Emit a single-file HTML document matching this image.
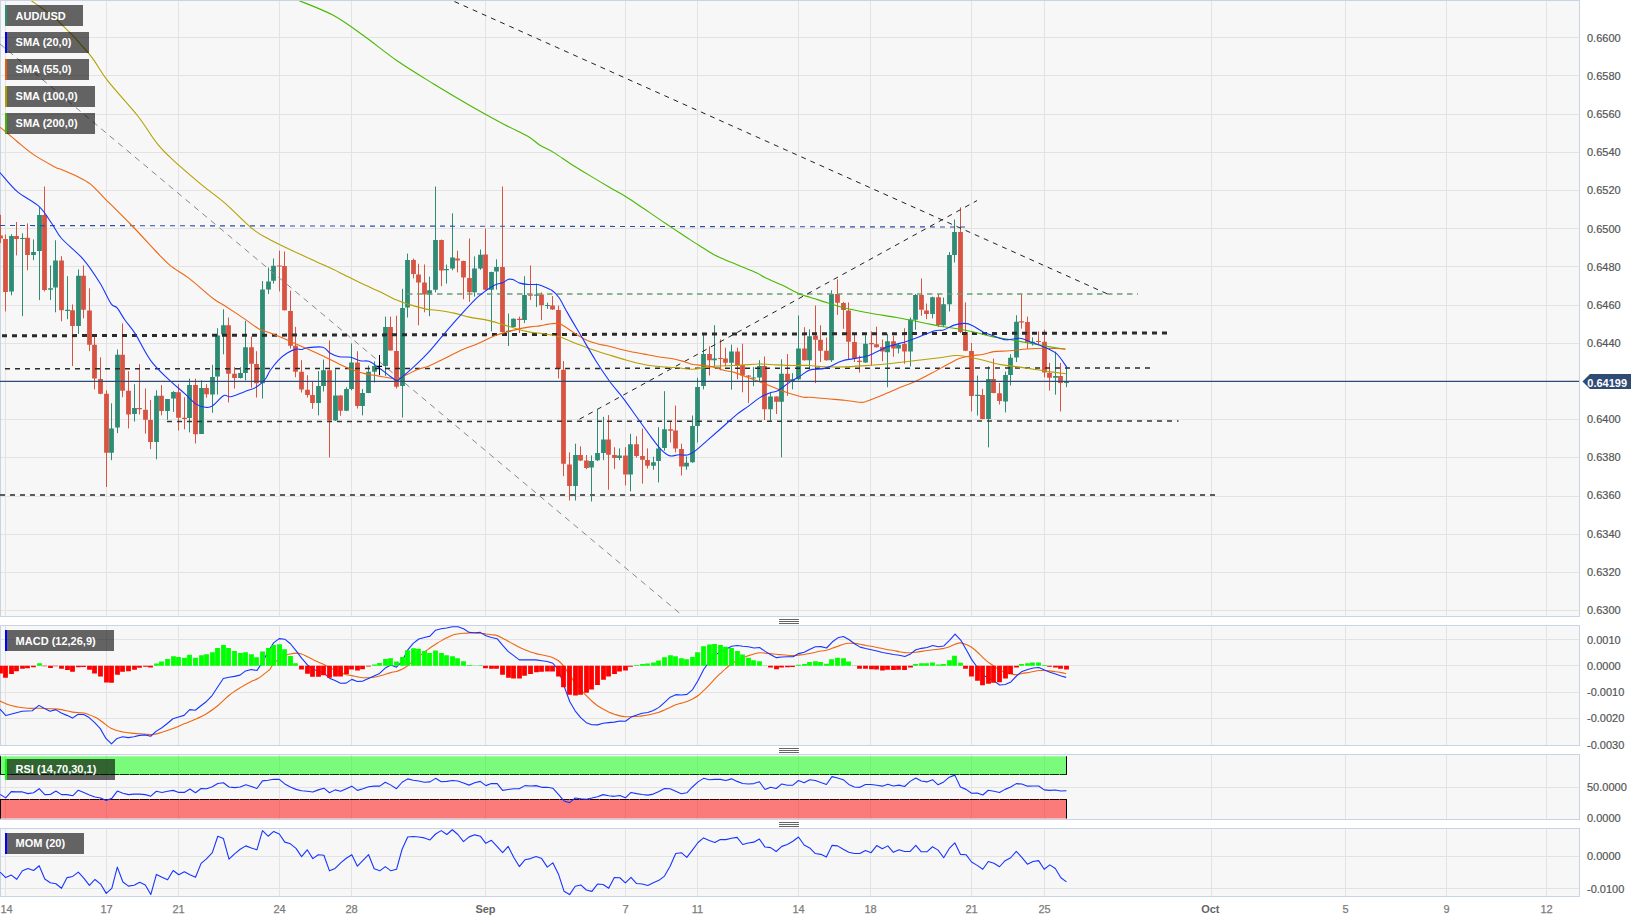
<!DOCTYPE html>
<html lang="en"><head><meta charset="utf-8"><title>AUD/USD chart</title>
<style>html,body{margin:0;padding:0;background:#fff;overflow:hidden}svg{display:block}text{font-family:"Liberation Sans",Arial,sans-serif}</style>
</head><body>
<svg width="1650" height="922" viewBox="0 0 1650 922">
<rect width="1650" height="922" fill="#ffffff"/>
<defs>
<clipPath id="cp0"><rect x="0" y="1" width="1579" height="615"/></clipPath>
<clipPath id="cp1"><rect x="0" y="626" width="1579" height="119"/></clipPath>
<clipPath id="cp2"><rect x="0" y="755" width="1579" height="64"/></clipPath>
<clipPath id="cp3"><rect x="0" y="829" width="1579" height="67"/></clipPath>
</defs>
<rect x="0.5" y="0.5" width="1579" height="616" fill="#f7f7f7" stroke="#c9d3e6" stroke-width="1"/>
<path d="M5.5 1V616M106.5 1V616M178.5 1V616M279.5 1V616M351.5 1V616M485.5 1V616M625.5 1V616M697.5 1V616M798.5 1V616M870.5 1V616M971.5 1V616M1044.5 1V616M1211.5 1V616M1345.5 1V616M1446.5 1V616M1546.5 1V616M1 37.5H1579M1 75.5H1579M1 114.5H1579M1 152.5H1579M1 190.5H1579M1 228.5H1579M1 266.5H1579M1 305.5H1579M1 343.5H1579M1 381.5H1579M1 419.5H1579M1 457.5H1579M1 496.5H1579M1 534.5H1579M1 572.5H1579M1 610.5H1579" stroke="#e3e3e3" stroke-width="1" fill="none"/>
<rect x="0.5" y="625.5" width="1579" height="120" fill="#f7f7f7" stroke="#c9d3e6" stroke-width="1"/>
<path d="M5.5 626V745M106.5 626V745M178.5 626V745M279.5 626V745M351.5 626V745M485.5 626V745M625.5 626V745M697.5 626V745M798.5 626V745M870.5 626V745M971.5 626V745M1044.5 626V745M1211.5 626V745M1345.5 626V745M1446.5 626V745M1546.5 626V745M1 639.5H1579M1 665.5H1579M1 692.5H1579M1 718.5H1579" stroke="#e3e3e3" stroke-width="1" fill="none"/>
<rect x="0.5" y="754.5" width="1579" height="65" fill="#f7f7f7" stroke="#c9d3e6" stroke-width="1"/>
<path d="M5.5 755V819M106.5 755V819M178.5 755V819M279.5 755V819M351.5 755V819M485.5 755V819M625.5 755V819M697.5 755V819M798.5 755V819M870.5 755V819M971.5 755V819M1044.5 755V819M1211.5 755V819M1345.5 755V819M1446.5 755V819M1546.5 755V819M1 787.5H1579" stroke="#e3e3e3" stroke-width="1" fill="none"/>
<rect x="0.5" y="828.5" width="1579" height="68" fill="#f7f7f7" stroke="#c9d3e6" stroke-width="1"/>
<path d="M5.5 829V896M106.5 829V896M178.5 829V896M279.5 829V896M351.5 829V896M485.5 829V896M625.5 829V896M697.5 829V896M798.5 829V896M870.5 829V896M971.5 829V896M1044.5 829V896M1211.5 829V896M1345.5 829V896M1446.5 829V896M1546.5 829V896M1 856.5H1579M1 888.5H1579" stroke="#e3e3e3" stroke-width="1" fill="none"/>
<g clip-path="url(#cp0)">
<path d="M0.5 214.8V242.9M5.5 234.5V311.4M16.5 222.0V255.4M27.5 223.4V270.3M44.5 186.5V291.4M61.5 256.2V321.3M72.5 304.4V366.0M83.5 265.4V318.3M89.5 288.3V351.2M94.5 336.5V389.4M100.5 357.3V394.3M106.5 390.3V487M122.5 323.5V397.2M128.5 371.2V428.4M139.5 364.2V414.5M145.5 388.5V433.6M150.5 400.1V449.2M161.5 385.1V415.4M178.5 384.2V430.5M184.5 397.2V429.3M195.5 378.6V443.5M206.5 384.2V397.7M228.5 317.5V402.4M234.5 367.2V388.5M251.5 336.5V387.7M256.5 351.2V397.5M279.5 250.7V291.4M284.5 251.5V310.5M290.5 290.6V348.6M295.5 326.9V377.2M301.5 360.2V392.5M307.5 375.2V397.5M312.5 381.6V408.8M329.5 340.5V457.4M340.5 395.1V415.8M357.5 351.2V408.5M390.5 316.6V350.7M396.5 315.7V388.5M413.5 258.5V278.4M418.5 263.7V325.3M424.5 264.5V312.3M441.5 239.6V286.2M457.5 250.7V272.4M463.5 260.6V299.2M469.5 238.5V301.8M485.5 228.6V290.0M502.5 186.5V332.5M519.5 316.6V333.0M530.5 265.4V300.1M541.5 292.3V320.1M552.5 296.0V309.9M558.5 305.6V378.4M563.5 361.1V476.2M569.5 452.4V500.5M580.5 446.3V461.1M586.5 455.0V469.2M608.5 415.1V489.7M614.5 447.2V468.9M625.5 447.2V485.4M636.5 436.3V457.6M642.5 428.6V483.6M647.5 448.4V468.5M670.5 421.7V442.5M675.5 405.6V452.4M681.5 443.7V475.5M709.5 346.3V375.5M720.5 339.4V370.3M725.5 347.7V366.3M737.5 347.7V379.3M742.5 343.7V392.3M748.5 375.1V403.2M764.5 356.4V420.1M776.5 396.3V414.0M787.5 354.1V395.8M804.5 327.2V360.6M815.5 305.6V383.1M820.5 325.3V362.0M826.5 337.5V360.7M837.5 279.3V314.9M843.5 301.9V328.8M848.5 302.4V359.4M854.5 334.0V362.0M859.5 355.5V372.5M871.5 331.4V365.5M876.5 326.7V347.6M882.5 339.5V361.2M893.5 335.7V356.8M904.5 328.2V363.8M921.5 278.5V315.8M926.5 303.6V319.2M938.5 294.1V327.1M960.5 207.3V333.1M965.5 302.4V351.1M971.5 343.0V411.5M982.5 388.9V419.3M993.5 358.6V393.3M999.5 382.9V404.5M1021.5 294.1V328.7M1027.5 316.6V349.0M1038.5 331.3V344.7M1044.5 329.6V377.3M1049.5 362.9V390.7M1060.5 362.9V411.5" stroke="#d75442" stroke-width="1" fill="none"/>
<path d="M11.5 234.2V295.3M22.5 233.3V316.2M33.5 239.4V260.2M39.5 207.3V300.1M50.5 265.4V300.1M55.5 240.3V312.3M67.5 276.2V319.2M78.5 269.4V333.9M111.5 403.3V460.2M117.5 349.5V433.1M134.5 384.2V421.5M156.5 390.3V459.3M167.5 398.9V419.8M173.5 391.1V411.9M189.5 378.6V432.4M201.5 380.4V434.0M212.5 364.8V412.8M217.5 328.2V394.6M223.5 309.3V354.3M240.5 367.2V378.5M245.5 320.9V380.4M262.5 281.0V398.6M268.5 267.5V294.0M273.5 258.5V283.6M318.5 371.2V415.4M323.5 359.6V391.5M335.5 369.4V421.0M346.5 387.3V411.1M351.5 343.4V390.3M362.5 389.0V415.4M368.5 365.5V393.2M374.5 361.3V382.5M379.5 363.4V369.4M385.5 316.6V375.9M402.5 288.8V417.5M407.5 253.6V317.5M429.5 276.7V316.2M435.5 186.5V292.3M446.5 264.5V283.6M452.5 213.4V270.3M474.5 256.4V296.6M480.5 249.5V269.8M491.5 271.7V331.3M496.5 259.3V289.7M508.5 313.6V346.0M513.5 318.3V327.3M524.5 276.2V323.0M536.5 283.6V307.1M547.5 302.7V308.8M575.5 443.7V500.5M591.5 455.4V501.5M597.5 409.9V461.1M603.5 416.8V460.2M619.5 448.4V460.2M630.5 433.8V491.4M653.5 456.7V469.8M658.5 427.2V482.4M664.5 391.2V450.7M686.5 456.4V469.8M692.5 415.5V462.8M697.5 377.8V442.5M703.5 335.1V389.4M714.5 325.2V366.3M731.5 344.6V389.7M753.5 367.1V386.2M759.5 360.2V381.0M770.5 392.3V420.9M781.5 359.3V457.3M792.5 373.2V389.4M798.5 315.5V380.2M809.5 329.3V368.0M831.5 290.3V362.0M865.5 335.4V362.9M887.5 333.9V387.2M898.5 343.8V353.4M910.5 317.5V366.4M915.5 294.1V329.7M932.5 296.7V318.4M943.5 297.6V327.1M949.5 252.1V311.4M954.5 219.5V262.5M977.5 375.6V415.5M988.5 366.4V447.4M1005.5 371.6V412.4M1010.5 354.2V385.5M1016.5 315.2V362.0M1032.5 337.4V345.6M1055.5 351.6V394.7M1066.5 367.2V387.2" stroke="#2e8b74" stroke-width="1" fill="none"/>
<path d="M-1.9 235.6h4.8v2.9h-4.8zM3.1 238.9h4.8v53.1h-4.8zM14.1 235.9h4.8v3.0h-4.8zM25.1 237.7h4.8v17.3h-4.8zM42.1 215.1h4.8v74.9h-4.8zM59.1 260.6h4.8v49.6h-4.8zM70.1 310.2h4.8v15.9h-4.8zM81.1 275.8h4.8v34.0h-4.8zM87.1 310.5h4.8v34.3h-4.8zM92.1 344.8h4.8v33.8h-4.8zM98.1 379.0h4.8v14.7h-4.8zM104.1 393.7h4.8v59.0h-4.8zM120.1 354.7h4.8v36.1h-4.8zM126.1 390.8h4.8v23.7h-4.8zM137.1 408.1h4.8v1.2h-4.8zM143.1 409.7h4.8v10.1h-4.8zM148.1 420.1h4.8v21.9h-4.8zM159.1 395.8h4.8v15.3h-4.8zM176.1 392.3h4.8v25.4h-4.8zM182.1 417.7h4.8v1.2h-4.8zM193.1 385.1h4.8v49.1h-4.8zM204.1 388.0h4.8v6.3h-4.8zM226.1 325.2h4.8v48.6h-4.8zM232.1 373.8h4.8v4.3h-4.8zM249.1 347.2h4.8v16.5h-4.8zM254.1 363.9h4.8v19.4h-4.8zM277.1 265.4h4.8v1.2h-4.8zM282.1 265.9h4.8v44.3h-4.8zM288.1 310.9h4.8v34.8h-4.8zM293.1 345.7h4.8v26.0h-4.8zM299.1 371.7h4.8v17.7h-4.8zM305.1 389.7h4.8v5.2h-4.8zM310.1 394.9h4.8v8.0h-4.8zM327.1 370.3h4.8v50.3h-4.8zM338.1 395.5h4.8v15.2h-4.8zM355.1 362.5h4.8v43.4h-4.8zM388.1 327.0h4.8v23.4h-4.8zM394.1 350.9h4.8v35.9h-4.8zM411.1 259.9h4.8v14.2h-4.8zM416.1 274.6h4.8v7.8h-4.8zM422.1 282.4h4.8v12.2h-4.8zM439.1 239.9h4.8v30.7h-4.8zM455.1 258.5h4.8v2.1h-4.8zM461.1 261.1h4.8v16.5h-4.8zM467.1 277.9h4.8v14.4h-4.8zM483.1 254.5h4.8v35.2h-4.8zM500.1 267.1h4.8v65.0h-4.8zM517.1 318.8h4.8v1.3h-4.8zM528.1 294.6h4.8v1.2h-4.8zM539.1 294.6h4.8v10.7h-4.8zM550.1 305.6h4.8v4.0h-4.8zM556.1 309.9h4.8v59.0h-4.8zM561.1 369.8h4.8v93.9h-4.8zM567.1 464.5h4.8v21.4h-4.8zM578.1 455.0h4.8v5.6h-4.8zM584.1 460.6h4.8v7.4h-4.8zM606.1 439.4h4.8v15.3h-4.8zM612.1 455.0h4.8v3.1h-4.8zM623.1 455.4h4.8v19.2h-4.8zM634.1 444.3h4.8v11.6h-4.8zM640.1 455.9h4.8v3.8h-4.8zM645.1 459.9h4.8v5.9h-4.8zM668.1 429.3h4.8v1.4h-4.8zM673.1 430.4h4.8v18.0h-4.8zM679.1 448.9h4.8v17.7h-4.8zM707.1 354.1h4.8v6.1h-4.8zM718.1 358.1h4.8v1.0h-4.8zM723.1 358.5h4.8v4.3h-4.8zM735.1 351.5h4.8v13.6h-4.8zM740.1 365.1h4.8v10.4h-4.8zM746.1 375.5h4.8v1.2h-4.8zM762.1 365.9h4.8v43.4h-4.8zM774.1 396.6h4.8v5.2h-4.8zM785.1 373.7h4.8v7.3h-4.8zM802.1 348.4h4.8v11.8h-4.8zM813.1 335.6h4.8v4.1h-4.8zM818.1 339.8h4.8v11.0h-4.8zM824.1 350.8h4.8v9.5h-4.8zM835.1 294.1h4.8v8.7h-4.8zM841.1 303.1h4.8v6.9h-4.8zM846.1 310.6h4.8v31.1h-4.8zM852.1 342.1h4.8v16.5h-4.8zM857.1 360.7h4.8v1.3h-4.8zM869.1 343.0h4.8v1.2h-4.8zM874.1 344.2h4.8v3.1h-4.8zM880.1 347.0h4.8v4.6h-4.8zM891.1 341.2h4.8v7.3h-4.8zM902.1 343.8h4.8v7.8h-4.8zM919.1 295.0h4.8v14.7h-4.8zM924.1 310.6h4.8v3.4h-4.8zM936.1 297.2h4.8v27.8h-4.8zM958.1 232.0h4.8v99.9h-4.8zM963.1 331.9h4.8v18.9h-4.8zM969.1 351.1h4.8v44.8h-4.8zM980.1 395.0h4.8v23.9h-4.8zM991.1 379.0h4.8v13.9h-4.8zM997.1 393.3h4.8v7.8h-4.8zM1019.1 321.3h4.8v1.2h-4.8zM1025.1 322.1h4.8v20.5h-4.8zM1036.1 340.9h4.8v1.2h-4.8zM1042.1 341.7h4.8v30.8h-4.8zM1047.1 372.8h4.8v4.9h-4.8zM1058.1 375.9h4.8v7.0h-4.8z" fill="#d75442"/>
<path d="M9.1 235.9h4.8v55.5h-4.8zM20.1 238.0h4.8v1.0h-4.8zM31.1 252.1h4.8v2.9h-4.8zM37.1 215.1h4.8v35.9h-4.8zM48.1 288.3h4.8v1.4h-4.8zM53.1 260.6h4.8v27.0h-4.8zM65.1 309.8h4.8v1.1h-4.8zM76.1 275.8h4.8v50.3h-4.8zM109.1 428.4h4.8v24.3h-4.8zM115.1 354.7h4.8v72.9h-4.8zM132.1 408.1h4.8v5.9h-4.8zM154.1 395.8h4.8v46.2h-4.8zM165.1 398.9h4.8v12.2h-4.8zM171.1 392.0h4.8v6.4h-4.8zM187.1 385.1h4.8v32.9h-4.8zM199.1 388.0h4.8v46.0h-4.8zM210.1 376.9h4.8v17.7h-4.8zM215.1 335.6h4.8v41.0h-4.8zM221.1 325.3h4.8v8.9h-4.8zM238.1 372.9h4.8v5.2h-4.8zM243.1 347.2h4.8v25.7h-4.8zM260.1 289.4h4.8v93.9h-4.8zM266.1 281.4h4.8v8.0h-4.8zM271.1 265.8h4.8v14.9h-4.8zM316.1 385.9h4.8v17.0h-4.8zM321.1 370.3h4.8v15.6h-4.8zM333.1 395.5h4.8v25.1h-4.8zM344.1 389.0h4.8v21.7h-4.8zM349.1 362.5h4.8v26.4h-4.8zM360.1 392.9h4.8v13.0h-4.8zM366.1 371.7h4.8v21.2h-4.8zM372.1 366.0h4.8v5.7h-4.8zM377.1 365.5h4.8v1.0h-4.8zM383.1 327.0h4.8v39.0h-4.8zM400.1 307.9h4.8v78.0h-4.8zM405.1 259.9h4.8v47.5h-4.8zM427.1 290.2h4.8v4.4h-4.8zM433.1 239.9h4.8v49.8h-4.8zM444.1 268.9h4.8v1.4h-4.8zM450.1 257.6h4.8v10.9h-4.8zM472.1 268.5h4.8v23.8h-4.8zM478.1 254.7h4.8v13.8h-4.8zM489.1 272.0h4.8v17.7h-4.8zM494.1 267.1h4.8v4.4h-4.8zM506.1 330.8h4.8v1.3h-4.8zM511.1 318.8h4.8v8.1h-4.8zM522.1 294.9h4.8v25.2h-4.8zM534.1 294.6h4.8v1.2h-4.8zM545.1 305.0h4.8v1.0h-4.8zM573.1 455.0h4.8v30.9h-4.8zM589.1 461.1h4.8v6.4h-4.8zM595.1 452.9h4.8v7.3h-4.8zM601.1 439.4h4.8v13.5h-4.8zM617.1 455.4h4.8v2.7h-4.8zM628.1 444.3h4.8v30.3h-4.8zM651.1 462.3h4.8v3.5h-4.8zM656.1 448.4h4.8v12.7h-4.8zM662.1 429.3h4.8v18.8h-4.8zM684.1 462.8h4.8v3.8h-4.8zM690.1 425.9h4.8v36.4h-4.8zM695.1 387.0h4.8v38.9h-4.8zM701.1 354.1h4.8v31.9h-4.8zM712.1 358.5h4.8v1.7h-4.8zM729.1 351.5h4.8v11.3h-4.8zM751.1 377.6h4.8v1.0h-4.8zM757.1 365.9h4.8v11.7h-4.8zM768.1 396.6h4.8v12.7h-4.8zM779.1 373.7h4.8v28.1h-4.8zM790.1 379.3h4.8v1.7h-4.8zM796.1 348.4h4.8v30.9h-4.8zM807.1 336.3h4.8v23.9h-4.8zM829.1 294.1h4.8v66.2h-4.8zM863.1 343.8h4.8v18.8h-4.8zM885.1 341.2h4.8v11.0h-4.8zM896.1 344.7h4.8v3.8h-4.8zM908.1 319.5h4.8v32.1h-4.8zM913.1 295.0h4.8v24.8h-4.8zM930.1 297.2h4.8v16.8h-4.8zM941.1 304.2h4.8v21.1h-4.8zM947.1 255.1h4.8v49.1h-4.8zM952.1 232.0h4.8v23.1h-4.8zM975.1 394.7h4.8v1.2h-4.8zM986.1 379.0h4.8v39.9h-4.8zM1003.1 375.1h4.8v26.3h-4.8zM1008.1 357.7h4.8v17.4h-4.8zM1014.1 321.8h4.8v35.6h-4.8zM1030.1 341.7h4.8v1.3h-4.8zM1053.1 375.9h4.8v1.8h-4.8zM1064.1 381.5h4.8v1.4h-4.8z" fill="#2e8b74"/>
<path d="M0 44L680 613.5" stroke="#888888" stroke-width="1" stroke-dasharray="6 5" fill="none"/>
<path d="M0 225.5L965 227" stroke="#2b4fa3" stroke-width="1.15" stroke-dasharray="5 5" fill="none"/>
<path d="M407 294H1138" stroke="#6f9a72" stroke-width="1.6" stroke-dasharray="5.5 4.5" fill="none"/>
<path d="M451 0L1108 294.2" stroke="#222222" stroke-width="1" stroke-dasharray="5 5" stroke-dashoffset="-3.8" fill="none"/>
<path d="M579.5 419.2L977 200.6" stroke="#222222" stroke-width="1" stroke-dasharray="5 5" fill="none"/>
<path d="M2 335.8L1167 333" stroke="#2b2b2b" stroke-width="3" stroke-dasharray="5 5" fill="none"/>
<path d="M5 368.8L1151 368" stroke="#2b2b2b" stroke-width="1.5" stroke-dasharray="5 5" fill="none"/>
<path d="M167 421.6L1178.5 420.9" stroke="#333333" stroke-width="1.5" stroke-dasharray="5 5" fill="none"/>
<path d="M0 495L1215.5 495" stroke="#5c5c5c" stroke-width="2.1" stroke-dasharray="5 5" fill="none"/>
<path d="M297.5 0.0C303.4 2.5 321.9 9.2 332.8 15.1C343.7 21.0 352.5 27.7 363.1 35.3C373.8 42.9 384.9 52.4 396.7 60.5C408.5 68.6 421.4 76.4 433.7 84.0C446.0 91.6 458.9 99.2 470.7 105.9C482.5 112.6 494.8 119.4 504.3 124.4C513.8 129.4 521.8 132.7 527.8 136.2C533.8 139.7 535.6 142.5 540.0 145.2C544.4 147.9 548.7 149.4 553.9 152.6C559.1 155.8 564.9 160.1 571.2 164.2C577.6 168.2 585.6 173.1 592.0 176.9C598.4 180.8 603.6 183.9 609.4 187.3C615.2 190.7 620.9 193.6 626.7 197.2C632.5 200.8 638.3 204.9 644.1 208.8C649.9 212.7 656.8 217.5 661.4 220.6C666.0 223.7 667.4 224.7 671.8 227.6C676.1 230.5 682.9 235.0 687.5 238.0C692.1 241.0 695.3 243.1 699.6 245.8C703.9 248.5 709.5 252.2 713.5 254.4C717.5 256.6 719.6 257.4 723.9 259.3C728.2 261.2 734.0 263.4 739.5 265.7C745.0 268.0 752.6 271.0 756.9 273.0C761.2 275.0 761.2 275.7 765.5 277.8C769.8 279.9 777.1 282.9 782.9 285.6C788.7 288.4 795.7 292.4 800.2 294.3C804.7 296.2 805.5 295.8 810.0 297.2C814.5 298.6 821.5 301.0 827.3 302.8C833.1 304.6 837.5 306.3 844.7 308.0C851.9 309.7 862.0 311.6 870.7 313.2C879.4 314.8 888.0 315.9 896.7 317.5C905.4 319.1 915.6 321.2 922.8 322.7C930.0 324.1 934.3 325.2 940.1 326.2C945.9 327.2 951.7 327.8 957.5 328.8C963.3 329.8 969.0 331.0 974.8 332.3C980.6 333.6 986.4 335.4 992.2 336.6C998.0 337.8 1003.7 338.5 1009.5 339.5C1015.3 340.5 1021.1 341.6 1026.9 342.7C1032.7 343.8 1037.9 344.7 1044.2 345.8C1050.5 346.9 1061.5 348.7 1065.0 349.3" stroke="#4ab800" stroke-width="1.1" fill="none" stroke-linejoin="round"/>
<path d="M30.3 0.0C34.8 3.4 47.4 11.2 57.2 20.2C67.0 29.2 80.7 43.7 89.1 53.8C97.5 63.9 99.5 70.3 107.6 80.7C115.7 91.1 129.4 105.3 137.8 116.0C146.2 126.7 151.3 136.5 158.0 144.6C164.7 152.7 170.9 158.0 178.2 164.7C185.5 171.4 193.9 178.4 201.7 184.9C209.5 191.4 216.8 196.1 225.2 203.4C233.6 210.7 244.6 222.6 252.1 228.6C259.6 234.6 263.2 236.0 270.0 239.7C276.8 243.4 284.8 247.0 292.6 250.7C300.4 254.4 309.0 258.3 316.8 261.9C324.6 265.5 332.2 268.9 339.4 272.4C346.6 275.9 353.3 279.5 360.2 282.8C367.1 286.1 374.9 289.4 381.0 292.3C387.1 295.2 392.0 298.1 396.6 300.1C401.2 302.1 403.9 302.9 408.8 304.4C413.7 305.9 421.5 308.1 426.1 309.1C430.7 310.1 431.9 309.5 436.5 310.2C441.1 310.9 448.4 312.0 453.9 313.1C459.4 314.2 464.0 315.9 469.5 317.1C475.0 318.3 481.4 318.9 486.9 320.1C492.4 321.3 497.6 323.0 502.5 324.4C507.4 325.8 511.7 327.4 516.3 328.7C520.9 330.0 526.2 331.3 530.2 332.1C534.2 332.9 535.5 332.6 540.0 333.3C544.5 334.0 551.5 334.7 557.3 336.3C563.1 337.9 568.9 340.7 574.7 342.9C580.5 345.1 586.2 347.5 592.0 349.5C597.8 351.5 603.6 353.2 609.4 355.0C615.2 356.8 620.9 358.6 626.7 360.2C632.5 361.8 638.3 363.4 644.1 364.5C649.9 365.6 656.2 366.3 661.4 366.8C666.6 367.3 670.1 367.1 675.3 367.5C680.5 367.9 687.5 369.3 692.7 369.2C697.9 369.1 701.3 367.7 706.5 367.1C711.7 366.5 718.1 366.1 723.9 365.8C729.7 365.5 735.4 365.4 741.2 365.1C747.0 364.8 753.7 364.1 758.6 364.0C763.5 363.9 766.1 364.3 770.7 364.5C775.3 364.7 780.8 365.2 786.3 365.4C791.8 365.5 799.8 365.4 803.7 365.4C807.7 365.4 806.1 365.2 810.0 365.5C813.9 365.8 821.5 366.7 827.3 366.9C833.1 367.1 838.9 367.1 844.7 366.9C850.5 366.7 854.8 366.4 862.0 365.9C869.2 365.4 879.4 364.7 888.1 363.8C896.8 362.9 905.4 361.7 914.1 360.7C922.8 359.7 933.2 358.6 940.1 357.7C947.0 356.8 951.4 355.7 955.7 355.5C960.0 355.3 961.5 355.7 966.1 356.5C970.7 357.3 977.7 358.9 983.5 360.3C989.3 361.7 995.0 363.5 1000.8 364.6C1006.6 365.7 1012.4 366.1 1018.2 366.9C1024.0 367.7 1029.7 368.6 1035.5 369.5C1041.3 370.4 1047.8 371.4 1052.9 372.1C1058.0 372.8 1063.7 373.5 1065.9 373.8" stroke="#b5a000" stroke-width="1.1" fill="none" stroke-linejoin="round"/>
<path d="M0.0 127.1C2.8 129.4 11.2 136.6 16.8 141.2C22.4 145.8 27.4 150.4 33.6 154.6C39.8 158.8 49.0 163.8 53.8 166.4C58.6 169.0 58.8 168.4 62.5 170.0C66.2 171.6 71.7 173.8 76.3 176.1C80.9 178.4 85.6 180.3 90.2 183.9C94.8 187.5 97.2 190.9 104.1 197.8C111.0 204.7 123.1 216.6 131.8 225.5C140.5 234.4 149.7 244.8 156.1 251.5C162.5 258.1 164.5 260.9 170.0 265.4C175.5 269.9 181.9 272.8 189.1 278.4C196.3 283.9 207.3 294.1 213.4 298.7C219.5 303.3 220.0 302.6 225.5 306.2C231.0 309.8 240.8 316.4 246.3 320.1C251.8 323.9 254.5 326.6 258.5 328.7C262.5 330.8 265.5 331.1 270.3 333.0C275.1 334.9 281.6 337.5 287.3 340.0C293.0 342.5 298.9 345.2 304.7 347.8C310.5 350.4 316.2 352.9 322.0 355.6C327.8 358.3 334.5 361.9 339.4 364.2C344.3 366.5 347.4 367.9 351.5 369.4C355.6 370.9 359.3 372.3 363.7 373.4C368.1 374.5 372.1 375.0 377.6 375.9C383.1 376.8 391.7 378.8 396.6 378.6C401.5 378.4 403.6 376.1 407.1 374.6C410.6 373.1 414.0 370.8 417.5 369.4C421.0 368.0 423.6 368.2 427.9 366.5C432.2 364.8 438.3 361.6 443.5 359.0C448.7 356.4 453.3 353.8 459.1 351.2C464.9 348.6 472.1 346.0 478.2 343.4C484.3 340.8 489.7 337.8 495.5 335.6C501.3 333.4 507.1 331.8 512.9 330.4C518.7 328.9 525.7 327.6 530.2 326.9C534.7 326.1 536.9 326.4 540.0 325.9C543.1 325.4 545.8 324.5 548.7 324.1C551.6 323.7 555.0 323.2 557.3 323.4C559.6 323.6 560.0 323.8 562.6 325.2C565.2 326.6 569.2 329.7 573.0 332.1C576.8 334.5 581.1 337.5 585.1 339.4C589.1 341.3 593.2 342.5 597.2 343.7C601.2 344.9 604.5 345.1 609.4 346.3C614.3 347.5 620.9 349.4 626.7 350.7C632.5 352.0 638.3 353.0 644.1 354.1C649.9 355.2 656.8 356.6 661.4 357.3C666.0 358.0 668.3 357.9 671.8 358.5C675.3 359.1 678.8 360.1 682.3 361.1C685.8 362.1 689.2 363.8 692.7 364.5C696.2 365.2 699.6 365.0 703.1 365.4C706.6 365.8 710.0 366.3 713.5 367.1C717.0 367.9 720.4 369.4 723.9 370.3C727.4 371.2 730.8 371.4 734.3 372.4C737.8 373.4 740.1 374.5 744.7 376.2C749.3 377.9 756.3 380.6 762.1 382.8C767.9 385.1 774.5 387.8 779.4 389.7C784.3 391.6 787.5 392.8 791.5 394.0C795.5 395.2 800.6 396.6 803.7 397.2C806.8 397.8 806.1 397.0 810.0 397.3C813.9 397.6 821.5 398.3 827.3 398.8C833.1 399.3 839.2 399.6 844.7 400.2C850.2 400.8 856.5 402.1 860.3 402.3C864.0 402.5 864.0 402.1 867.2 401.1C870.4 400.1 874.5 398.4 879.4 396.4C884.3 394.4 890.9 391.3 896.7 388.9C902.5 386.5 908.3 384.6 914.1 382.0C919.9 379.4 925.6 376.3 931.4 373.3C937.2 370.3 944.2 366.2 948.8 363.8C953.4 361.4 955.7 359.9 959.2 358.6C962.7 357.3 965.6 356.7 969.6 356.0C973.6 355.3 979.5 354.9 983.5 354.2C987.5 353.5 989.6 352.2 993.9 351.6C998.2 351.0 1004.0 351.2 1009.5 350.8C1015.0 350.4 1021.1 349.4 1026.9 349.0C1032.7 348.6 1039.3 348.3 1044.2 348.2C1049.1 348.1 1052.7 348.4 1056.3 348.5C1059.9 348.6 1064.3 348.9 1065.9 349.0" stroke="#ee6611" stroke-width="1.1" fill="none" stroke-linejoin="round"/>
<path d="M0.0 172.6C2.9 175.8 10.8 186.1 17.3 191.7C23.8 197.3 33.2 201.1 39.0 206.4C44.8 211.8 48.2 218.5 52.0 223.8C55.8 229.2 56.4 232.6 61.6 238.5C66.8 244.4 76.9 251.9 83.3 259.3C89.7 266.7 95.2 275.4 99.8 282.8C104.4 290.2 108.1 299.4 111.0 303.6C113.9 307.8 114.8 305.2 117.1 307.9C119.4 310.6 121.9 315.7 124.9 320.0C127.9 324.3 131.0 327.1 135.3 333.9C139.6 340.7 145.1 353.0 150.9 360.8C156.7 368.6 164.5 375.4 170.0 380.7C175.5 386.0 179.6 389.0 183.9 392.9C188.2 396.8 192.4 401.7 196.0 404.1C199.6 406.5 202.8 407.0 205.6 407.3C208.3 407.6 209.5 407.9 212.5 405.9C215.5 403.9 220.8 397.0 223.8 395.5C226.8 394.0 226.9 397.4 230.7 396.7C234.4 396.0 242.0 392.8 246.3 391.1C250.7 389.5 253.6 388.8 256.8 386.8C260.0 384.8 263.2 381.7 265.4 379.0C267.6 376.3 267.8 374.0 270.0 370.8C272.2 367.6 275.8 362.9 278.7 359.9C281.6 356.9 284.4 354.8 287.3 353.0C290.2 351.2 293.7 349.7 296.0 349.1C298.3 348.5 299.3 349.7 301.2 349.5C303.1 349.3 303.7 348.2 307.3 347.8C310.9 347.4 319.1 346.3 322.9 347.2C326.7 348.1 327.1 351.4 329.9 353.0C332.6 354.6 335.9 356.1 339.4 356.8C342.9 357.5 347.2 356.6 350.7 357.3C354.2 358.0 357.2 360.1 360.2 360.8C363.2 361.5 366.0 360.3 368.9 361.3C371.8 362.3 374.4 364.6 377.6 366.8C380.8 369.0 384.8 372.3 388.0 374.6C391.2 376.9 394.3 380.0 396.6 380.4C398.9 380.8 398.3 380.0 401.8 377.2C405.3 374.4 412.9 367.7 417.5 363.4C422.1 359.1 425.3 356.0 429.6 351.2C433.9 346.4 438.3 340.8 443.5 334.7C448.7 328.6 455.0 321.2 460.8 314.9C466.6 308.5 472.7 301.5 478.2 296.6C483.7 291.7 489.8 287.7 493.8 285.4C497.9 283.1 500.1 283.8 502.5 282.8C504.9 281.8 506.8 279.8 508.5 279.3C510.2 278.8 511.0 279.0 512.9 279.6C514.8 280.2 517.2 282.3 519.8 283.1C522.4 283.9 525.6 284.3 528.5 284.5C531.4 284.7 535.1 284.3 537.2 284.5C539.3 284.7 538.7 284.6 541.2 285.6C543.7 286.6 549.1 288.5 552.1 290.5C555.1 292.5 556.5 294.0 559.1 297.8C561.7 301.6 564.0 306.9 567.8 313.4C571.5 319.9 577.0 329.0 581.6 336.8C586.2 344.6 590.9 352.8 595.5 360.2C600.1 367.6 604.8 374.6 609.4 381.0C614.0 387.4 618.7 392.3 623.3 398.4C627.9 404.5 632.5 411.1 637.1 417.5C641.7 423.9 647.0 431.4 651.0 436.8C655.0 442.2 658.2 446.6 661.4 449.8C664.6 453.0 667.2 455.1 670.1 455.9C673.0 456.7 675.9 454.8 678.8 454.7C681.7 454.6 684.9 455.5 687.5 455.0C690.1 454.5 691.2 453.8 694.4 451.5C697.6 449.2 702.2 444.9 706.5 441.1C710.8 437.4 715.5 433.3 720.4 429.0C725.3 424.7 731.4 418.9 736.0 415.1C740.6 411.3 744.2 409.3 748.2 406.4C752.2 403.4 756.5 399.7 760.3 397.4C764.0 395.1 767.8 393.7 770.7 392.6C773.6 391.5 774.5 392.6 777.7 390.8C780.9 389.1 786.0 384.6 789.8 382.1C793.5 379.7 796.8 378.1 800.2 376.1C803.6 374.1 805.8 371.2 810.0 369.9C814.2 368.6 820.4 369.6 825.6 368.1C830.8 366.7 836.6 362.8 841.2 361.2C845.8 359.6 848.8 359.6 853.4 358.6C858.0 357.7 863.5 357.4 869.0 355.5C874.5 353.6 879.9 349.7 886.3 347.3C892.6 344.9 901.9 342.9 907.1 341.2C912.3 339.5 913.0 339.1 917.6 337.4C922.2 335.7 930.6 332.0 934.9 330.8C939.2 329.6 940.4 330.9 943.6 330.0C946.8 329.1 950.4 326.2 954.0 325.1C957.6 324.0 962.1 323.2 965.3 323.4C968.5 323.5 970.1 324.5 973.1 326.0C976.1 327.5 980.0 330.5 983.5 332.2C987.0 333.9 990.1 334.7 993.9 336.0C997.6 337.3 1001.7 339.4 1006.0 339.8C1010.3 340.2 1016.1 338.1 1019.9 338.3C1023.7 338.5 1024.8 339.9 1028.6 341.2C1032.4 342.5 1037.9 344.4 1042.5 346.4C1047.1 348.4 1052.2 349.9 1056.3 353.4C1060.3 356.9 1065.0 364.9 1066.8 367.2" stroke="#1636ff" stroke-width="1.1" fill="none" stroke-linejoin="round"/>
<path d="M0 381.4H1579" stroke="#2f4b73" stroke-width="1.2" fill="none"/>
<path d="M379.5 355V375M377 366.5H382" stroke="#000" stroke-width="1" fill="none"/>
</g>
<g clip-path="url(#cp1)">
<path d="M0.0 701.12C1.4 701.7 5.7 703.9 8.5 704.85C11.3 705.8 13.9 706.3 17.0 706.88C20.1 707.4 23.5 708.0 27.2 708.24C30.9 708.5 35.0 708.2 39.0 708.24C43.0 708.3 47.2 708.5 50.9 708.75C54.6 709.0 57.7 709.0 61.3 709.6C64.9 710.2 68.8 711.6 72.5 712.15C76.2 712.7 80.0 712.2 83.7 712.99C87.4 713.8 91.7 715.7 94.7 717.07C97.7 718.5 99.0 719.6 101.8 721.48C104.6 723.4 108.0 726.9 111.5 728.61C115.0 730.4 119.0 731.2 122.7 732.0C126.4 732.8 130.2 733.0 133.9 733.36C137.6 733.7 142.0 733.8 145.1 734.04C148.2 734.2 149.9 734.8 152.7 734.55C155.5 734.3 158.5 733.3 161.9 732.34C165.3 731.4 169.2 730.0 172.9 728.61C176.6 727.2 180.4 725.4 184.1 723.85C187.8 722.3 191.6 721.0 195.3 719.27C199.0 717.6 202.8 715.9 206.5 713.67C210.2 711.4 214.0 708.7 217.7 705.7C221.4 702.7 225.2 698.5 228.9 695.52C232.6 692.5 236.3 690.2 240.0 687.88C243.7 685.5 248.2 683.0 251.2 681.43C254.2 679.9 255.1 680.3 257.9 678.55C260.7 676.8 266.0 672.5 268.0 670.91C270.0 669.4 269.1 670.5 270.0 669.21C270.9 667.9 272.1 665.0 273.6 663.27C275.1 661.6 277.3 660.3 279.2 659.03C281.1 657.8 282.9 656.5 284.8 655.64C286.7 654.8 288.5 654.4 290.4 653.94C292.3 653.5 294.1 653.1 296.0 653.09C297.9 653.1 299.8 653.4 301.6 653.94C303.4 654.5 305.2 655.6 307.0 656.48C308.8 657.4 310.7 658.4 312.6 659.37C314.5 660.3 316.3 661.2 318.2 662.08C320.1 662.9 321.9 663.6 323.8 664.46C325.7 665.4 327.5 666.6 329.4 667.52C331.3 668.5 333.1 669.2 335.0 670.06C336.9 670.9 338.7 671.8 340.6 672.61C342.5 673.4 344.3 674.1 346.2 674.64C348.1 675.1 349.9 675.3 351.8 675.66C353.7 676.0 355.5 676.5 357.4 676.85C359.3 677.2 361.2 677.6 363.0 677.7C364.8 677.8 366.6 677.8 368.4 677.7C370.2 677.6 372.1 677.5 374.0 677.19C375.9 676.9 377.7 676.5 379.6 676.0C381.5 675.5 383.3 674.9 385.2 674.3C387.1 673.7 388.9 673.1 390.8 672.61C392.7 672.1 394.5 672.0 396.4 671.42C398.3 670.9 400.1 670.1 402.0 669.21C403.9 668.3 405.7 667.2 407.6 665.82C409.5 664.4 411.3 662.3 413.2 660.73C415.1 659.2 416.9 657.9 418.8 656.48C420.7 655.1 422.5 653.7 424.4 652.24C426.3 650.8 428.1 649.3 430.0 648.0C431.9 646.7 433.8 645.5 435.6 644.27C437.5 643.1 439.2 641.9 441.1 640.87C443.0 639.8 444.8 638.8 446.7 637.82C448.6 636.9 450.4 635.9 452.3 635.27C454.2 634.6 456.0 634.3 457.9 633.92C459.8 633.6 461.6 633.4 463.5 633.24C465.4 633.1 467.2 633.1 469.1 633.07C471.0 633.0 472.8 633.0 474.7 633.07C476.6 633.1 478.4 633.1 480.3 633.24C482.2 633.4 484.0 633.7 485.9 633.92C487.8 634.2 489.6 634.5 491.5 634.76C493.4 635.0 495.2 635.0 497.1 635.61C499.0 636.2 500.9 637.2 502.7 638.16C504.5 639.1 506.3 640.2 508.1 641.21C509.9 642.2 511.8 643.3 513.7 644.27C515.6 645.3 517.4 646.2 519.3 647.15C521.2 648.1 523.0 648.9 524.9 649.7C526.8 650.5 528.6 651.2 530.5 651.9C532.4 652.5 534.2 653.1 536.1 653.6C538.0 654.1 539.8 654.4 541.7 654.79C543.6 655.2 545.4 655.5 547.3 655.98C549.2 656.5 551.0 656.9 552.9 657.67C554.8 658.5 556.6 659.2 558.5 660.73C560.4 662.2 562.2 664.3 564.1 666.67C566.0 669.1 567.9 672.5 569.7 675.15C571.5 677.8 573.3 680.4 575.1 682.79C576.9 685.2 578.8 687.5 580.7 689.58C582.6 691.7 584.4 693.6 586.3 695.52C588.2 697.4 590.0 699.4 591.9 701.12C593.8 702.8 595.6 704.4 597.5 705.7C599.4 707.0 601.2 708.0 603.1 709.09C605.0 710.1 606.8 711.1 608.7 711.98C610.6 712.8 612.4 713.5 614.3 714.18C616.2 714.8 618.0 715.5 619.9 715.88C621.8 716.3 623.6 716.6 625.5 716.73C627.4 716.9 629.2 716.8 631.1 716.73C633.0 716.7 634.9 716.5 636.7 716.39C638.6 716.2 640.4 716.1 642.2 715.88C644.1 715.7 645.9 715.4 647.8 715.03C649.7 714.7 651.5 714.1 653.4 713.67C655.3 713.2 657.1 712.8 659.0 712.15C660.9 711.5 662.7 710.7 664.6 709.94C666.5 709.1 668.3 708.2 670.2 707.39C672.1 706.5 673.9 705.6 675.8 704.85C677.7 704.1 679.5 703.7 681.4 703.15C683.3 702.6 685.1 702.2 687.0 701.45C688.9 700.7 690.7 699.9 692.6 698.91C694.5 697.9 696.3 696.9 698.2 695.52C700.1 694.1 701.9 692.2 703.8 690.42C705.7 688.6 707.6 686.7 709.4 684.82C711.2 682.9 713.0 680.8 714.8 678.88C716.6 677.0 718.5 675.2 720.4 673.45C722.3 671.7 724.1 670.0 726.0 668.36C727.9 666.7 729.7 665.1 731.6 663.78C733.5 662.5 735.3 661.4 737.2 660.39C739.1 659.4 740.9 658.5 742.8 657.67C744.7 656.9 746.5 656.3 748.4 655.64C750.3 655.0 752.1 654.4 754.0 653.94C755.9 653.5 757.7 652.9 759.6 652.75C761.5 652.6 763.3 652.9 765.2 653.09C767.1 653.2 768.9 653.4 770.8 653.6C772.7 653.8 774.6 654.1 776.4 654.28C778.2 654.5 780.0 654.6 781.8 654.79C783.6 655.0 785.5 655.2 787.4 655.3C789.3 655.4 791.1 655.7 793.0 655.64C794.9 655.6 796.7 655.3 798.6 655.13C800.5 654.9 802.3 654.7 804.2 654.45C806.1 654.2 808.1 653.8 810.0 653.43C811.9 653.1 813.6 652.6 815.4 652.24C817.2 651.8 819.1 651.4 821.0 651.05C822.9 650.7 824.7 650.7 826.6 650.21C828.5 649.8 830.3 649.0 832.2 648.34C834.1 647.7 835.9 647.0 837.8 646.3C839.7 645.6 841.5 644.8 843.4 644.27C845.2 643.8 847.0 643.4 848.9 643.25C850.8 643.1 852.6 643.2 854.5 643.42C856.4 643.6 858.2 643.9 860.1 644.27C862.0 644.6 863.8 645.1 865.7 645.45C867.6 645.8 869.4 646.0 871.3 646.3C873.2 646.6 875.0 647.1 876.9 647.49C878.8 647.9 880.6 648.1 882.5 648.51C884.4 648.9 886.2 649.4 888.1 649.7C890.0 650.0 891.8 650.2 893.7 650.55C895.6 650.9 897.4 651.4 899.3 651.73C901.2 652.1 903.0 652.4 904.9 652.58C906.8 652.8 908.7 652.8 910.5 652.75C912.3 652.7 914.1 652.5 915.9 652.24C917.7 652.0 919.6 651.7 921.5 651.39C923.4 651.1 925.2 650.8 927.1 650.55C929.0 650.3 930.8 649.9 932.7 649.7C934.6 649.5 936.4 649.4 938.3 649.19C940.2 649.0 942.0 648.7 943.9 648.34C945.8 647.9 947.6 647.5 949.5 646.81C951.4 646.1 953.2 644.9 955.1 644.27C957.0 643.6 958.8 642.9 960.7 642.91C962.6 643.0 964.4 643.8 966.3 644.61C968.2 645.4 970.0 646.2 971.9 647.49C973.8 648.8 975.7 650.5 977.5 652.24C979.3 653.9 981.1 656.0 982.9 657.67C984.7 659.4 986.6 661.0 988.5 662.42C990.4 663.8 992.2 664.9 994.1 666.16C996.0 667.4 997.8 669.0 999.7 670.06C1001.6 671.1 1003.4 672.0 1005.3 672.61C1007.2 673.3 1009.0 673.6 1010.9 673.96C1012.8 674.3 1014.6 674.7 1016.5 674.64C1018.4 674.6 1020.2 673.8 1022.1 673.45C1024.0 673.1 1025.8 672.9 1027.7 672.61C1029.6 672.3 1031.4 671.8 1033.3 671.42C1035.2 671.1 1037.0 670.7 1038.9 670.57C1040.8 670.4 1042.7 670.5 1044.5 670.57C1046.3 670.6 1048.2 670.7 1050.0 670.91C1051.8 671.1 1053.7 671.5 1055.6 671.76C1057.5 672.0 1059.4 672.3 1061.2 672.61C1063.0 672.9 1065.4 673.6 1066.2 673.79" stroke="#ee6611" stroke-width="1.1" fill="none" stroke-linejoin="round"/>
<path d="M0.0 709.09L5.9 715.54L22.1 711.3L32.2 710.79L39.0 705.36L44.5 708.58L50.1 711.3L55.7 709.6L61.3 712.99L66.9 715.37L72.5 718.08L78.1 714.18L83.7 714.52L89.1 717.58L94.7 722.67L100.3 728.61L105.9 738.45L111.5 743.88L117.1 738.45L122.7 736.75L128.3 737.6L133.9 736.75L139.5 735.39L145.1 734.88L150.7 736.24L156.3 731.15L161.9 727.76L167.3 723.52L172.9 718.76L178.5 717.07L184.1 715.37L189.7 709.6L195.3 710.28L200.9 705.7L206.5 701.45L212.1 695.52L217.7 687.03L223.3 678.55L228.9 677.19L234.4 676.34L240.0 675.15L245.6 670.91L251.2 669.55L256.8 670.57L262.4 662.42L268.0 651.39L270.0 648.85L273.6 642.91L279.2 638.67L284.8 639.18L290.4 643.76L296.0 650.55L301.6 658.18L307.0 664.46L312.6 669.21L318.2 670.91L323.8 672.95L329.4 678.21L335.0 680.58L340.6 683.3L346.2 683.13L351.8 679.39L357.4 681.43L363.0 681.09L368.4 678.55L374.0 676.0L379.6 673.45L385.2 668.02L390.8 664.97L396.4 667.18L402.0 661.58L407.6 650.21L413.2 643.42L418.8 639.01L424.4 637.48L430.0 636.12L435.6 630.18L441.1 628.82L446.7 627.98L452.3 626.79L457.9 626.79L463.5 628.82L469.1 632.39L474.7 632.73L480.3 632.39L485.9 635.78L491.5 637.48L497.1 638.67L502.7 645.45L508.1 651.39L513.7 655.64L519.3 659.88L524.9 659.88L530.5 659.88L536.1 659.88L541.7 660.73L547.3 661.58L552.9 663.27L558.5 670.06L564.1 686.18L569.7 701.45L575.1 710.79L580.7 717.58L586.3 722.67L591.9 724.7L597.5 724.87L603.1 723.18L608.7 722.67L614.3 722.16L619.9 720.97L625.5 721.31L631.1 717.07L636.7 715.03L642.2 713.33L647.8 712.48L653.4 710.45L659.0 707.39L664.6 702.3L670.2 697.21L675.8 694.67L681.4 695.01L687.0 694.33L692.6 689.58L698.2 680.24L703.8 669.21L709.4 661.58L714.8 655.64L720.4 651.39L726.0 649.19L731.6 646.3L737.2 645.45L742.8 646.3L748.4 646.81L754.0 648.0L759.6 647.49L765.2 651.39L770.8 654.79L776.4 657.67L781.8 656.99L787.4 656.82L793.0 656.82L798.6 653.6L804.2 652.24L810.0 649.19L815.4 646.81L821.0 646.64L826.6 648.0L832.2 642.06L837.8 637.82L843.4 636.46L848.9 639.52L854.5 643.76L860.1 647.15L865.7 648.51L871.3 649.7L876.9 651.05L882.5 652.58L888.1 653.43L893.7 654.45L899.3 655.3L904.9 656.48L910.5 653.94L915.9 649.7L921.5 648.34L927.1 647.49L932.7 645.45L938.3 646.81L943.9 645.96L949.5 640.36L955.1 634.08L960.7 640.02L966.3 649.7L971.9 659.88L977.5 667.52L982.9 675.15L988.5 677.7L994.1 681.09L999.7 684.99L1005.3 684.48L1010.9 681.94L1016.5 676.0L1022.1 671.42L1027.7 669.55L1033.3 668.02L1038.9 667.52L1044.5 670.06L1050.0 672.27L1055.6 673.96L1061.2 676.0L1066.2 677.36" stroke="#1636ff" stroke-width="1.1" fill="none" stroke-linejoin="round"/>
<path d="M37.1 663.27h4.8V665.8h-4.8zM154.1 663.44h4.8V665.8h-4.8zM159.1 661.58h4.8V665.8h-4.8zM165.1 659.03h4.8V665.8h-4.8zM171.1 656.15h4.8V665.8h-4.8zM176.1 656.99h4.8V665.8h-4.8zM182.1 657.67h4.8V665.8h-4.8zM187.1 654.79h4.8V665.8h-4.8zM193.1 657.67h4.8V665.8h-4.8zM199.1 655.13h4.8V665.8h-4.8zM204.1 654.28h4.8V665.8h-4.8zM210.1 652.24h4.8V665.8h-4.8zM215.1 648.0h4.8V665.8h-4.8zM221.1 644.95h4.8V665.8h-4.8zM226.1 648.0h4.8V665.8h-4.8zM232.1 651.05h4.8V665.8h-4.8zM238.1 653.09h4.8V665.8h-4.8zM243.1 652.24h4.8V665.8h-4.8zM249.1 654.28h4.8V665.8h-4.8zM254.1 657.33h4.8V665.8h-4.8zM260.1 651.39h4.8V665.8h-4.8zM266.1 648.0h4.8V665.8h-4.8zM271.1 644.95h4.8V665.8h-4.8zM277.1 644.27h4.8V665.8h-4.8zM282.1 649.19h4.8V665.8h-4.8zM288.1 655.98h4.8V665.8h-4.8zM293.1 663.27h4.8V665.8h-4.8zM372.1 664.46h4.8V665.8h-4.8zM377.1 662.93h4.8V665.8h-4.8zM383.1 659.03h4.8V665.8h-4.8zM388.1 658.35h4.8V665.8h-4.8zM394.1 661.58h4.8V665.8h-4.8zM400.1 656.99h4.8V665.8h-4.8zM405.1 650.21h4.8V665.8h-4.8zM411.1 648.34h4.8V665.8h-4.8zM416.1 648.85h4.8V665.8h-4.8zM422.1 651.05h4.8V665.8h-4.8zM427.1 653.09h4.8V665.8h-4.8zM433.1 650.55h4.8V665.8h-4.8zM439.1 653.09h4.8V665.8h-4.8zM444.1 655.13h4.8V665.8h-4.8zM450.1 656.15h4.8V665.8h-4.8zM455.1 658.18h4.8V665.8h-4.8zM461.1 661.24h4.8V665.8h-4.8zM467.1 664.97h4.8V665.8h-4.8zM472.1 665.48h4.8V665.8h-4.8zM478.1 665.14h4.8V665.8h-4.8zM634.1 664.97h4.8V665.8h-4.8zM640.1 664.12h4.8V665.8h-4.8zM645.1 663.61h4.8V665.8h-4.8zM651.1 662.42h4.8V665.8h-4.8zM656.1 660.39h4.8V665.8h-4.8zM662.1 657.33h4.8V665.8h-4.8zM668.1 655.3h4.8V665.8h-4.8zM673.1 656.15h4.8V665.8h-4.8zM679.1 658.18h4.8V665.8h-4.8zM684.1 659.37h4.8V665.8h-4.8zM690.1 656.99h4.8V665.8h-4.8zM695.1 652.24h4.8V665.8h-4.8zM701.1 646.3h4.8V665.8h-4.8zM707.1 644.61h4.8V665.8h-4.8zM712.1 644.1h4.8V665.8h-4.8zM718.1 644.95h4.8V665.8h-4.8zM723.1 646.64h4.8V665.8h-4.8zM729.1 648.0h4.8V665.8h-4.8zM735.1 651.05h4.8V665.8h-4.8zM740.1 654.45h4.8V665.8h-4.8zM746.1 657.67h4.8V665.8h-4.8zM751.1 660.22h4.8V665.8h-4.8zM757.1 661.24h4.8V665.8h-4.8zM762.1 665.48h4.8V665.8h-4.8zM796.1 664.63h4.8V665.8h-4.8zM802.1 664.12h4.8V665.8h-4.8zM807.1 661.92h4.8V665.8h-4.8zM813.1 661.24h4.8V665.8h-4.8zM818.1 662.08h4.8V665.8h-4.8zM824.1 663.78h4.8V665.8h-4.8zM829.1 659.37h4.8V665.8h-4.8zM835.1 657.67h4.8V665.8h-4.8zM841.1 658.18h4.8V665.8h-4.8zM846.1 661.58h4.8V665.8h-4.8zM852.1 665.48h4.8V665.8h-4.8zM913.1 664.12h4.8V665.8h-4.8zM919.1 663.27h4.8V665.8h-4.8zM924.1 663.27h4.8V665.8h-4.8zM930.1 662.42h4.8V665.8h-4.8zM936.1 664.46h4.8V665.8h-4.8zM941.1 664.12h4.8V665.8h-4.8zM947.1 660.22h4.8V665.8h-4.8zM952.1 655.64h4.8V665.8h-4.8zM958.1 662.76h4.8V665.8h-4.8zM1019.1 664.12h4.8V665.8h-4.8zM1025.1 663.27h4.8V665.8h-4.8zM1030.1 662.42h4.8V665.8h-4.8zM1036.1 662.42h4.8V665.8h-4.8zM1042.1 664.97h4.8V665.8h-4.8z" fill="#00ff00"/>
<path d="M-1.9 665.8h4.8V673.45h-4.8zM3.1 665.8h4.8V677.7h-4.8zM9.1 665.8h4.8V673.96h-4.8zM14.1 665.8h4.8V671.25h-4.8zM20.1 665.8h4.8V668.87h-4.8zM25.1 665.8h4.8V668.36h-4.8zM31.1 665.8h4.8V667.18h-4.8zM42.1 665.8h4.8V666.33h-4.8zM48.1 665.8h4.8V668.02h-4.8zM53.1 665.8h4.8V666.33h-4.8zM59.1 665.8h4.8V668.87h-4.8zM65.1 665.8h4.8V670.06h-4.8zM70.1 665.8h4.8V671.76h-4.8zM76.1 665.8h4.8V667.18h-4.8zM81.1 665.8h4.8V667.01h-4.8zM87.1 665.8h4.8V669.72h-4.8zM92.1 665.8h4.8V673.45h-4.8zM98.1 665.8h4.8V676.51h-4.8zM104.1 665.8h4.8V682.45h-4.8zM109.1 665.8h4.8V682.79h-4.8zM115.1 665.8h4.8V674.64h-4.8zM120.1 665.8h4.8V671.76h-4.8zM126.1 665.8h4.8V671.25h-4.8zM132.1 665.8h4.8V669.72h-4.8zM137.1 665.8h4.8V667.85h-4.8zM143.1 665.8h4.8V666.84h-4.8zM148.1 665.8h4.8V667.52h-4.8zM299.1 665.8h4.8V669.55h-4.8zM305.1 665.8h4.8V673.79h-4.8zM310.1 665.8h4.8V676.85h-4.8zM316.1 665.8h4.8V676.85h-4.8zM321.1 665.8h4.8V675.15h-4.8zM327.1 665.8h4.8V677.7h-4.8zM333.1 665.8h4.8V676.51h-4.8zM338.1 665.8h4.8V676.51h-4.8zM344.1 665.8h4.8V673.96h-4.8zM349.1 665.8h4.8V669.55h-4.8zM355.1 665.8h4.8V670.4h-4.8zM360.1 665.8h4.8V669.21h-4.8zM366.1 665.8h4.8V666.5h-4.8zM483.1 665.8h4.8V668.36h-4.8zM489.1 665.8h4.8V668.7h-4.8zM494.1 665.8h4.8V668.87h-4.8zM500.1 665.8h4.8V674.64h-4.8zM506.1 665.8h4.8V677.7h-4.8zM511.1 665.8h4.8V678.55h-4.8zM517.1 665.8h4.8V678.55h-4.8zM522.1 665.8h4.8V675.66h-4.8zM528.1 665.8h4.8V673.96h-4.8zM534.1 665.8h4.8V672.27h-4.8zM539.1 665.8h4.8V671.76h-4.8zM545.1 665.8h4.8V671.42h-4.8zM550.1 665.8h4.8V671.42h-4.8zM556.1 665.8h4.8V676.51h-4.8zM561.1 665.8h4.8V687.37h-4.8zM567.1 665.8h4.8V694.67h-4.8zM573.1 665.8h4.8V695.52h-4.8zM578.1 665.8h4.8V694.67h-4.8zM584.1 665.8h4.8V692.63h-4.8zM589.1 665.8h4.8V689.58h-4.8zM595.1 665.8h4.8V684.99h-4.8zM601.1 665.8h4.8V679.73h-4.8zM606.1 665.8h4.8V676.51h-4.8zM612.1 665.8h4.8V673.96h-4.8zM617.1 665.8h4.8V671.42h-4.8zM623.1 665.8h4.8V670.4h-4.8zM628.1 665.8h4.8V666.67h-4.8zM768.1 665.8h4.8V667.52h-4.8zM774.1 665.8h4.8V669.21h-4.8zM779.1 665.8h4.8V667.52h-4.8zM785.1 665.8h4.8V667.18h-4.8zM790.1 665.8h4.8V667.01h-4.8zM857.1 665.8h4.8V668.7h-4.8zM863.1 665.8h4.8V668.87h-4.8zM869.1 665.8h4.8V669.21h-4.8zM874.1 665.8h4.8V669.55h-4.8zM880.1 665.8h4.8V670.4h-4.8zM885.1 665.8h4.8V669.72h-4.8zM891.1 665.8h4.8V670.06h-4.8zM896.1 665.8h4.8V669.72h-4.8zM902.1 665.8h4.8V670.06h-4.8zM908.1 665.8h4.8V667.52h-4.8zM963.1 665.8h4.8V668.7h-4.8zM969.1 665.8h4.8V676.51h-4.8zM975.1 665.8h4.8V680.75h-4.8zM980.1 665.8h4.8V685.33h-4.8zM986.1 665.8h4.8V683.64h-4.8zM991.1 665.8h4.8V682.79h-4.8zM997.1 665.8h4.8V682.28h-4.8zM1003.1 665.8h4.8V678.55h-4.8zM1008.1 665.8h4.8V673.96h-4.8zM1014.1 665.8h4.8V667.52h-4.8zM1047.1 665.8h4.8V666.67h-4.8zM1053.1 665.8h4.8V667.52h-4.8zM1058.1 665.8h4.8V668.87h-4.8zM1064.1 665.8h4.8V669.55h-4.8z" fill="#ff0000"/>
</g>
<g clip-path="url(#cp2)">
<rect x="0" y="756.3" width="1067" height="18.7" fill="rgba(0,255,0,0.5)"/>
<rect x="0" y="799" width="1067" height="19.5" fill="rgba(255,0,0,0.5)"/>
<path d="M0.5 756.3V775M1066.5 756.3V775M0.5 799V818.5M1066.5 799V818.5" stroke="#000" stroke-width="1" fill="none"/>
<path d="M0 774.5H1067" stroke="#063806" stroke-width="1" stroke-dasharray="9.4 0.6" fill="none"/>
<path d="M0 799.5H1067" stroke="#2a0000" stroke-width="1" stroke-dasharray="9.4 0.6" fill="none"/>
<path d="M0.1 794.46L5.7 797.85L11.3 791.58L16.8 791.92L22.4 791.92L28.0 793.61L33.6 792.76L39.2 788.69L44.8 794.63L50.3 794.46L55.9 791.07L61.5 794.63L67.1 794.63L72.7 795.82L78.3 790.22L83.8 792.42L89.4 794.97L95.0 797.01L100.6 798.02L106.2 800.57L111.8 798.36L117.3 791.07L122.9 793.27L128.5 794.63L134.1 794.12L139.7 794.12L145.3 794.63L150.8 796.16L156.4 791.24L162.0 792.42L167.6 791.24L173.2 790.39L178.8 792.42L184.3 792.42L189.9 789.03L195.5 792.76L201.1 788.52L206.7 788.69L212.3 786.82L217.8 783.43L223.4 782.75L229.0 786.99L234.6 787.67L240.2 786.99L245.8 784.79L251.3 786.48L256.9 788.52L262.5 780.88L268.1 780.21L273.7 779.19L279.3 779.36L284.8 783.94L290.4 786.99L296.0 789.37L301.6 790.73L307.2 791.24L312.8 792.08L318.3 789.88L323.9 788.18L329.5 792.76L335.1 789.88L340.7 791.24L346.3 788.69L351.8 786.15L357.4 790.39L363.0 788.69L368.6 786.82L374.2 786.15L379.8 786.15L385.3 782.24L390.9 785.13L396.5 788.69L402.1 782.24L407.7 778.85L413.3 780.21L418.8 781.05L424.4 782.24L430.0 781.9L435.6 778.34L441.2 781.73L446.8 781.39L452.3 780.55L457.9 781.05L463.5 783.09L469.1 785.13L474.7 782.75L480.3 781.39L485.8 785.64L491.4 783.6L497.0 783.43L502.6 790.39L508.2 789.54L513.8 788.69L519.3 788.69L524.9 785.64L530.5 785.98L536.1 785.64L541.7 787.33L547.3 787.33L552.8 788.18L558.4 794.46L564.0 800.91L569.6 802.61L575.2 798.02L580.8 798.7L586.3 799.21L591.9 798.02L597.5 796.67L603.1 794.63L608.7 795.82L614.3 796.33L619.8 795.48L625.4 797.85L631.0 792.42L636.6 793.61L642.2 794.46L647.8 795.14L653.3 794.12L658.9 791.58L664.5 788.52L670.1 788.69L675.7 791.24L681.3 793.78L686.8 792.76L692.4 786.99L698.0 781.9L703.6 778.34L709.2 779.7L714.8 779.36L720.3 779.36L725.9 780.55L731.5 778.85L737.1 781.39L742.7 783.43L748.3 783.94L753.8 783.6L759.4 781.73L765.0 789.54L770.6 787.33L776.2 788.52L781.8 783.94L787.3 785.3L792.9 785.13L798.5 780.55L804.1 782.75L809.7 779.7L815.3 780.55L820.8 782.58L826.4 784.45L832.0 776.64L837.6 778.0L843.2 779.7L848.8 784.45L854.3 786.99L859.9 787.33L865.5 784.45L871.1 784.45L876.7 785.3L882.3 786.15L887.8 784.28L893.4 785.98L899.0 785.13L904.6 786.48L910.2 781.39L915.8 778.0L921.3 781.05L926.9 781.9L932.5 779.7L938.1 784.79L943.7 781.9L949.3 777.15L954.8 775.12L960.4 786.99L966.0 789.37L971.6 793.27L977.2 792.93L982.8 794.97L988.3 790.22L993.9 791.24L999.5 792.42L1005.1 789.37L1010.7 786.99L1016.3 783.6L1021.8 783.94L1027.4 786.15L1033.0 785.98L1038.6 785.98L1044.2 789.88L1049.8 790.39L1055.3 790.05L1060.9 791.07L1066.5 790.73" stroke="#1636ff" stroke-width="1.1" fill="none" stroke-linejoin="round"/>
</g>
<g clip-path="url(#cp3)">
<path d="M0.1 872.18L5.7 877.61L11.3 875.07L16.8 879.31L22.4 870.82L28.0 868.45L33.6 870.48L39.2 865.73L44.8 878.97L50.3 882.7L55.9 883.72L61.5 888.3L67.1 877.61L72.7 876.42L78.3 872.18L83.8 878.12L89.4 885.42L95.0 879.48L100.6 884.06L106.2 893.39L111.8 888.3L117.3 867.09L122.9 882.02L128.5 886.1L134.1 885.25L139.7 882.36L145.3 884.91L150.8 894.58L156.4 874.39L162.0 877.27L167.6 879.82L173.2 870.48L178.8 874.73L184.3 871.84L189.9 874.73L195.5 877.27L201.1 863.36L206.7 858.61L212.3 852.67L217.8 836.21L223.4 838.58L229.0 859.12L234.6 853.85L240.2 849.27L245.8 845.88L251.3 848.08L256.9 849.78L262.5 830.61L268.1 836.21L273.7 831.45L279.3 834.0L284.8 842.15L290.4 843.84L296.0 848.42L301.6 856.57L307.2 849.78L312.8 858.61L318.3 854.7L323.9 855.21L329.5 870.82L335.1 868.45L340.7 862.85L346.3 858.27L351.8 854.7L357.4 866.24L363.0 860.3L368.6 854.7L374.2 868.79L379.8 870.82L385.3 866.58L390.9 870.82L396.5 869.3L402.1 849.27L407.7 837.05L413.3 836.55L418.8 837.05L424.4 837.9L430.0 839.94L435.6 834.0L441.2 830.61L446.8 834.51L452.3 829.76L457.9 834.51L463.5 841.64L469.1 836.88L474.7 834.85L480.3 836.21L485.8 843.33L491.4 840.28L497.0 846.39L502.6 852.67L508.2 846.39L513.8 857.42L519.3 866.58L524.9 859.79L530.5 858.61L536.1 856.4L541.7 858.61L547.3 867.09L552.8 862.85L558.4 873.88L564.0 891.19L569.6 894.58L575.2 886.27L580.8 884.91L586.3 890.0L591.9 891.36L597.5 884.06L603.1 884.57L608.7 888.3L614.3 877.61L619.8 877.78L625.4 882.87L631.0 877.27L636.6 883.55L642.2 884.06L647.8 885.42L653.3 882.7L658.9 880.33L664.5 876.08L670.1 866.24L675.7 853.52L681.3 852.67L686.8 857.42L692.4 850.12L698.0 842.48L703.6 837.9L709.2 840.45L714.8 842.48L720.3 839.6L725.9 839.6L731.5 838.24L737.1 837.39L742.7 844.52L748.3 842.99L753.8 842.15L759.4 839.09L765.0 847.07L770.6 847.58L776.2 851.48L781.8 846.39L787.3 844.52L792.9 841.3L798.5 837.05L804.1 845.03L809.7 847.92L815.3 853.52L820.8 854.36L826.4 856.91L832.0 845.37L837.6 845.88L843.2 849.27L848.8 852.16L854.3 853.52L859.9 853.52L865.5 850.46L871.1 852.67L876.7 845.54L882.3 848.76L887.8 845.88L893.4 852.33L899.0 849.78L904.6 851.48L910.2 851.48L915.8 845.37L921.3 851.82L926.9 851.82L932.5 846.73L938.1 850.12L943.7 857.76L949.3 848.42L954.8 842.82L960.4 854.36L966.0 854.7L971.6 862.0L977.2 865.39L982.8 869.3L988.3 861.49L993.9 863.19L999.5 866.75L1005.1 860.64L1010.7 857.76L1016.3 851.31L1021.8 857.42L1027.4 864.21L1033.0 861.49L1038.6 860.64L1044.2 869.3L1049.8 864.88L1055.3 868.45L1060.9 877.78L1066.5 881.85" stroke="#1636ff" stroke-width="1.1" fill="none" stroke-linejoin="round"/>
</g>
<path d="M779 619.5H799M779 621.5H799M779 623.5H799" stroke="#666" stroke-width="1" fill="none"/>
<path d="M779 748.5H799M779 750.5H799M779 752.5H799" stroke="#666" stroke-width="1" fill="none"/>
<path d="M779 822.5H799M779 824.5H799M779 826.5H799" stroke="#666" stroke-width="1" fill="none"/>
<rect x="5" y="5" width="78" height="21" fill="rgba(0,0,0,0.6)"/>
<rect x="5" y="5" width="2" height="21" fill="#2e8b74"/>
<text x="15.6" y="20" font-size="11" font-weight="bold" fill="#ffffff">AUD/USD</text>
<rect x="5" y="32" width="84" height="21" fill="rgba(0,0,0,0.6)"/>
<rect x="5" y="32" width="2" height="21" fill="#0000ff"/>
<text x="15.6" y="46" font-size="11" font-weight="bold" fill="#ffffff">SMA (20,0)</text>
<rect x="5" y="59" width="84" height="21" fill="rgba(0,0,0,0.6)"/>
<rect x="5" y="59" width="2" height="21" fill="#e8590c"/>
<text x="15.6" y="73" font-size="11" font-weight="bold" fill="#ffffff">SMA (55,0)</text>
<rect x="5" y="86" width="90" height="21" fill="rgba(0,0,0,0.6)"/>
<rect x="5" y="86" width="2" height="21" fill="#b09a00"/>
<text x="15.6" y="100" font-size="11" font-weight="bold" fill="#ffffff">SMA (100,0)</text>
<rect x="5" y="113" width="90" height="21" fill="rgba(0,0,0,0.6)"/>
<rect x="5" y="113" width="2" height="21" fill="#44b400"/>
<text x="15.6" y="127" font-size="11" font-weight="bold" fill="#ffffff">SMA (200,0)</text>
<rect x="5" y="630" width="109" height="21" fill="rgba(0,0,0,0.6)"/>
<rect x="5" y="630" width="2" height="21" fill="#0000ff"/>
<text x="15.6" y="645" font-size="11" font-weight="bold" fill="#ffffff">MACD (12,26,9)</text>
<rect x="5" y="759" width="110" height="21" fill="rgba(0,0,0,0.6)"/>
<rect x="5" y="759" width="2" height="21" fill="#00ff00"/>
<text x="15.6" y="773" font-size="11" font-weight="bold" fill="#ffffff">RSI (14,70,30,1)</text>
<rect x="5" y="833" width="79" height="21" fill="rgba(0,0,0,0.6)"/>
<rect x="5" y="833" width="2" height="21" fill="#0000ff"/>
<text x="15.6" y="847" font-size="11" font-weight="bold" fill="#ffffff">MOM (20)</text>
<text x="1587" y="41.8" font-size="11" fill="#555555" stroke="#555555" stroke-width="0.2">0.6600</text>
<text x="1587" y="79.9" font-size="11" fill="#555555" stroke="#555555" stroke-width="0.2">0.6580</text>
<text x="1587" y="118.1" font-size="11" fill="#555555" stroke="#555555" stroke-width="0.2">0.6560</text>
<text x="1587" y="156.2" font-size="11" fill="#555555" stroke="#555555" stroke-width="0.2">0.6540</text>
<text x="1587" y="194.3" font-size="11" fill="#555555" stroke="#555555" stroke-width="0.2">0.6520</text>
<text x="1587" y="232.5" font-size="11" fill="#555555" stroke="#555555" stroke-width="0.2">0.6500</text>
<text x="1587" y="270.6" font-size="11" fill="#555555" stroke="#555555" stroke-width="0.2">0.6480</text>
<text x="1587" y="308.7" font-size="11" fill="#555555" stroke="#555555" stroke-width="0.2">0.6460</text>
<text x="1587" y="346.8" font-size="11" fill="#555555" stroke="#555555" stroke-width="0.2">0.6440</text>
<text x="1587" y="423.1" font-size="11" fill="#555555" stroke="#555555" stroke-width="0.2">0.6400</text>
<text x="1587" y="461.2" font-size="11" fill="#555555" stroke="#555555" stroke-width="0.2">0.6380</text>
<text x="1587" y="499.4" font-size="11" fill="#555555" stroke="#555555" stroke-width="0.2">0.6360</text>
<text x="1587" y="537.5" font-size="11" fill="#555555" stroke="#555555" stroke-width="0.2">0.6340</text>
<text x="1587" y="575.6" font-size="11" fill="#555555" stroke="#555555" stroke-width="0.2">0.6320</text>
<text x="1587" y="613.8" font-size="11" fill="#555555" stroke="#555555" stroke-width="0.2">0.6300</text>
<text x="1587" y="643.8" font-size="11" fill="#555555" stroke="#555555" stroke-width="0.2">0.0010</text>
<text x="1587" y="669.8" font-size="11" fill="#555555" stroke="#555555" stroke-width="0.2">0.0000</text>
<text x="1587" y="696.0999999999999" font-size="11" fill="#555555" stroke="#555555" stroke-width="0.2">-0.0010</text>
<text x="1587" y="722.0999999999999" font-size="11" fill="#555555" stroke="#555555" stroke-width="0.2">-0.0020</text>
<text x="1587" y="748.8" font-size="11" fill="#555555" stroke="#555555" stroke-width="0.2">-0.0030</text>
<text x="1587" y="790.8" font-size="11" fill="#555555" stroke="#555555" stroke-width="0.2">50.0000</text>
<text x="1587" y="822.3" font-size="11" fill="#555555" stroke="#555555" stroke-width="0.2">0.0000</text>
<text x="1587" y="859.8" font-size="11" fill="#555555" stroke="#555555" stroke-width="0.2">0.0000</text>
<text x="1587" y="892.8" font-size="11" fill="#555555" stroke="#555555" stroke-width="0.2">-0.0100</text>
<path d="M1582.5 381.5L1590 374H1631V389H1590Z" fill="#2f4b73"/>
<text x="1587.3" y="387" font-size="11" font-weight="bold" fill="#ffffff">0.64199</text>
<text x="0.5" y="913.2" font-size="11" fill="#7c7c7c" stroke="#7c7c7c" stroke-width="0.25">14</text>
<text x="106.5" y="913.2" font-size="11" fill="#7c7c7c" stroke="#7c7c7c" stroke-width="0.25" text-anchor="middle">17</text>
<text x="178.5" y="913.2" font-size="11" fill="#7c7c7c" stroke="#7c7c7c" stroke-width="0.25" text-anchor="middle">21</text>
<text x="279.5" y="913.2" font-size="11" fill="#7c7c7c" stroke="#7c7c7c" stroke-width="0.25" text-anchor="middle">24</text>
<text x="351.5" y="913.2" font-size="11" fill="#7c7c7c" stroke="#7c7c7c" stroke-width="0.25" text-anchor="middle">28</text>
<text x="625.5" y="913.2" font-size="11" fill="#7c7c7c" stroke="#7c7c7c" stroke-width="0.25" text-anchor="middle">7</text>
<text x="697.5" y="913.2" font-size="11" fill="#7c7c7c" stroke="#7c7c7c" stroke-width="0.25" text-anchor="middle">11</text>
<text x="798.5" y="913.2" font-size="11" fill="#7c7c7c" stroke="#7c7c7c" stroke-width="0.25" text-anchor="middle">14</text>
<text x="870.5" y="913.2" font-size="11" fill="#7c7c7c" stroke="#7c7c7c" stroke-width="0.25" text-anchor="middle">18</text>
<text x="971.5" y="913.2" font-size="11" fill="#7c7c7c" stroke="#7c7c7c" stroke-width="0.25" text-anchor="middle">21</text>
<text x="1044.5" y="913.2" font-size="11" fill="#7c7c7c" stroke="#7c7c7c" stroke-width="0.25" text-anchor="middle">25</text>
<text x="1345.5" y="913.2" font-size="11" fill="#7c7c7c" stroke="#7c7c7c" stroke-width="0.25" text-anchor="middle">5</text>
<text x="1446.5" y="913.2" font-size="11" fill="#7c7c7c" stroke="#7c7c7c" stroke-width="0.25" text-anchor="middle">9</text>
<text x="1546.5" y="913.2" font-size="11" fill="#7c7c7c" stroke="#7c7c7c" stroke-width="0.25" text-anchor="middle">12</text>
<text x="485.5" y="913.2" font-size="11" font-weight="bold" fill="#666666" text-anchor="middle">Sep</text>
<text x="1210.3" y="913.2" font-size="11" font-weight="bold" fill="#666666" text-anchor="middle">Oct</text>
</svg></body></html>
